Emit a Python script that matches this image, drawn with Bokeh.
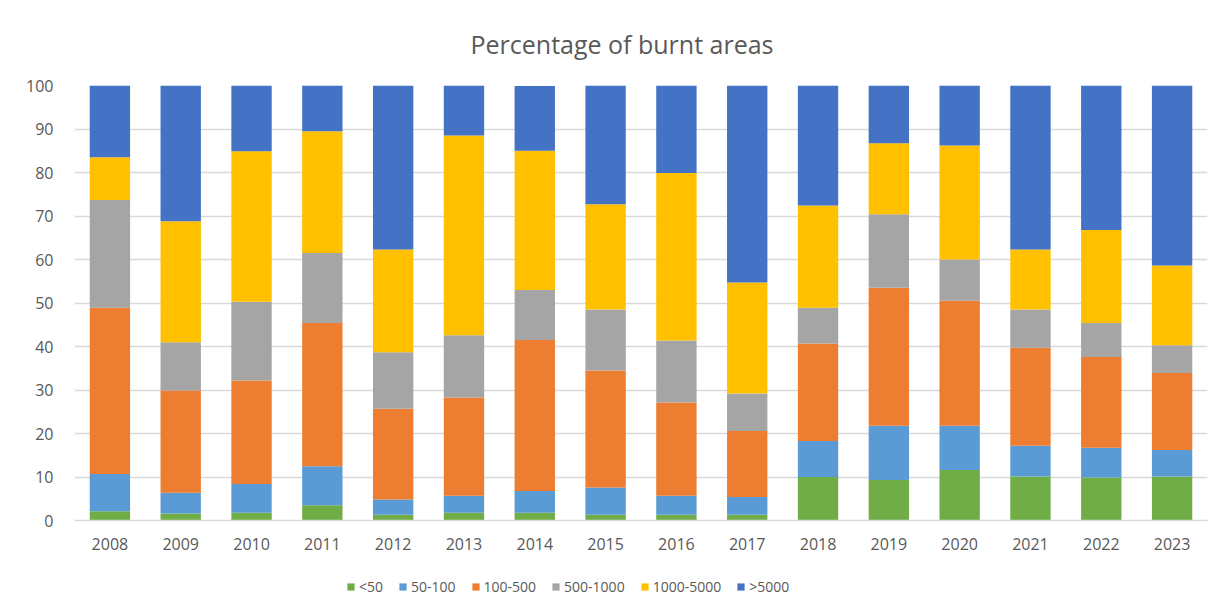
from bokeh.plotting import figure
from bokeh.layouts import column
from bokeh.models import ColumnDataSource, FixedTicker, Legend, LegendItem, Title
from bokeh.embed import file_html
from bokeh.resources import INLINE

years = ["2008", "2009", "2010", "2011", "2012", "2013", "2014", "2015",
         "2016", "2017", "2018", "2019", "2020", "2021", "2022", "2023"]
series_names = ["<50", "50-100", "100-500", "500-1000", "1000-5000", ">5000"]

lt50      = [2.1, 1.6, 1.8, 3.5, 1.3, 1.8, 1.8, 1.3, 1.3, 1.3, 10.0, 9.3, 11.6, 10.1, 9.9, 10.1]
s50_100   = [8.6, 4.8, 6.6, 9.0, 3.5, 3.9, 5.0, 6.3, 4.4, 4.1, 8.3, 12.5, 10.2, 7.1, 6.8, 6.1]
s100_500  = [38.2, 23.5, 23.8, 32.9, 20.9, 22.6, 34.7, 26.9, 21.4, 15.2, 22.4, 31.7, 28.7, 22.5, 20.9, 17.7]
s500_1000 = [24.8, 11.1, 18.1, 16.1, 13.0, 14.3, 11.5, 14.0, 14.3, 8.6, 8.2, 16.9, 9.5, 8.8, 7.8, 6.4]
s1000_5000 = [9.8, 27.8, 34.6, 28.0, 23.6, 45.9, 32.0, 24.2, 38.5, 25.5, 23.5, 16.3, 26.2, 13.8, 21.4, 18.3]
gt5000    = [16.5, 31.2, 15.1, 10.5, 37.7, 11.5, 14.9, 27.3, 20.1, 45.3, 27.6, 13.3, 13.8, 37.7, 33.2, 41.4]

colors = ["#70AD47", "#5B9BD5", "#ED7D31", "#A5A5A5", "#FFC000", "#4472C4"]
keys = ["a", "b", "c", "d", "e", "f"]

source = ColumnDataSource(dict(years=years, a=lt50, b=s50_100, c=s100_500,
                               d=s500_1000, e=s1000_5000, f=gt5000))

FONT = "Open Sans"
TXT = "#595959"

p = figure(x_range=years, y_range=(0, 100), width=1217, height=559,
           output_backend="svg", toolbar_location=None,
           min_border_left=74, min_border_right=10, min_border_top=85,
           min_border_bottom=39)

p.vbar_stack(keys, x="years", width=0.57, color=colors,
             line_color=None, source=source)

p.add_layout(Title(text="Percentage of burnt areas", align="left",
                   text_font=FONT, text_font_size="25px", text_color=TXT,
                   text_font_style="normal", offset=396, standoff=49), "above")

p.outline_line_color = None
p.background_fill_color = "white"
p.border_fill_color = "white"

p.xgrid.grid_line_color = None
p.ygrid.grid_line_color = "#d9d9d9"
p.ygrid.grid_line_width = 1.3

p.yaxis.ticker = FixedTicker(ticks=list(range(0, 101, 10)))
p.yaxis.axis_line_color = None
p.yaxis.major_tick_line_color = None
p.yaxis.minor_tick_line_color = None
p.yaxis.major_label_text_font = FONT
p.yaxis.major_label_text_font_size = "16px"
p.yaxis.major_label_text_color = TXT
p.yaxis.major_label_standoff = 15

p.xaxis.axis_line_color = "#d9d9d9"
p.xaxis.axis_line_width = 1.3
p.xaxis.major_tick_line_color = None
p.xaxis.minor_tick_line_color = None
p.xaxis.major_label_text_font = FONT
p.xaxis.major_label_text_font_size = "16px"
p.xaxis.major_label_text_color = TXT
p.xaxis.major_label_standoff = 11

p.x_range.range_padding = 0

# Legend strip below the chart (same series, hidden renderers used only as legend keys)
q = figure(x_range=years, y_range=(0, 100), width=1217, height=45,
           output_backend="svg", toolbar_location=None,
           min_border_left=0, min_border_right=0, min_border_top=0, min_border_bottom=0)
q.axis.visible = False
q.grid.visible = False
q.outline_line_color = None
key_renderers = q.vbar_stack(keys, x="years", width=0.57, color=colors,
                             line_color=None, source=source)
for r in key_renderers:
    r.visible = False

legend = Legend(items=[LegendItem(label=n, renderers=[r]) for n, r in zip(series_names, key_renderers)],
                orientation="horizontal", location=(272, 8),
                label_text_font=FONT, label_text_font_size="14px", label_text_color=TXT,
                glyph_width=9, glyph_height=9, label_standoff=4, spacing=15,
                padding=0, margin=0, border_line_color=None,
                background_fill_alpha=0, inactive_fill_alpha=0)
q.add_layout(legend, "center")

layout = column(p, q, spacing=0)
open("out.html", "w").write(file_html(layout, INLINE))
